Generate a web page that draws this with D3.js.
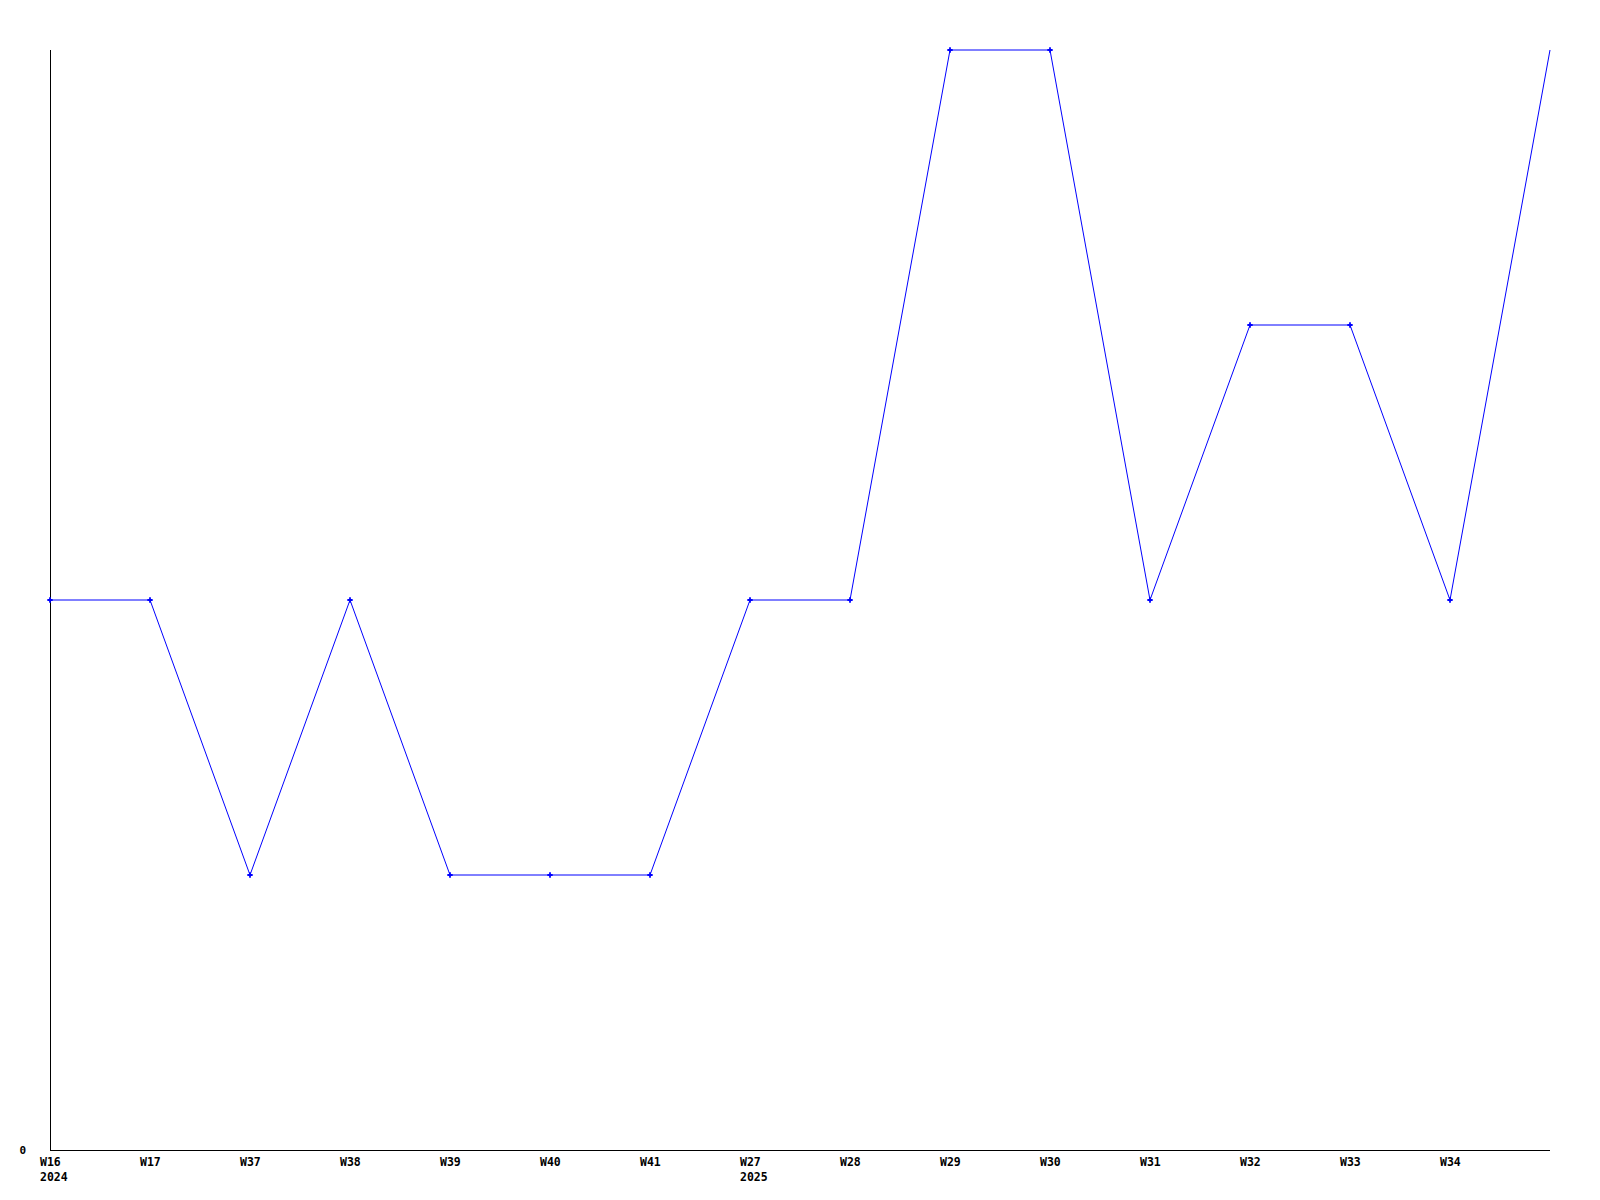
<!DOCTYPE html>
<html><head><meta charset="utf-8">
<script src="https://cdn.jsdelivr.net/npm/d3@7"></script>
<style>body{margin:0;background:#fff}svg{display:block}</style>
</head><body>
<script>
const weeks = ["W16","W17","W37","W38","W39","W40","W41","W27","W28","W29","W30","W31","W32","W33","W34",""];
const years = ["2024","","","","","","","2025","","","","","","","",""];
const values = [2,2,1,2,1,1,1,2,2,4,4,2,3,3,2,4];
const yTicks = [0];

const W = 1600, H = 1200;
const svg = d3.select("body").append("svg").attr("width", W).attr("height", H);
const x = d3.scaleLinear().domain([0, weeks.length - 1]).range([50, 1550]);
const y = d3.scaleLinear().domain([0, 4]).range([1150, 50]);
const font = "'DejaVu Sans Mono', monospace";

// axes
svg.append("line").attr("x1", 50.5).attr("x2", 50.5).attr("y1", y(4)).attr("y2", y(0) + 0.5)
  .attr("stroke", "#000").attr("stroke-width", 1).attr("shape-rendering", "crispEdges");
svg.append("line").attr("x1", 50).attr("x2", 1550).attr("y1", y(0) + 0.5).attr("y2", y(0) + 0.5)
  .attr("stroke", "#000").attr("stroke-width", 1).attr("shape-rendering", "crispEdges");

svg.selectAll("text.yt").data(yTicks).join("text").attr("class", "yt")
  .attr("x", 26).attr("y", d => y(d) + 3.5).attr("text-anchor", "end")
  .attr("font-family", font).attr("font-weight", "bold").attr("font-size", 11).text(d => d);

const idx = d3.range(weeks.length);
svg.selectAll("text.wk").data(idx.filter(i => weeks[i])).join("text").attr("class", "wk")
  .attr("x", i => x(i) - 10).attr("y", 1166)
  .attr("font-family", font).attr("font-weight", "bold").attr("font-size", 11.5).text(i => weeks[i]);
svg.selectAll("text.yr").data(idx.filter(i => years[i])).join("text").attr("class", "yr")
  .attr("x", i => x(i) - 10).attr("y", 1181)
  .attr("font-family", font).attr("font-weight", "bold").attr("font-size", 11.5).text(i => years[i]);

// line
const line = d3.line().x((d, i) => x(i)).y(d => y(d));
svg.append("path").datum(values).attr("d", line).attr("fill", "none")
  .attr("stroke", "#0000ff").attr("stroke-width", 1);

svg.selectAll("path.mk").data(idx.filter(i => weeks[i])).join("path").attr("class", "mk")
  .attr("transform", i => `translate(${x(i)},${y(values[i])})`)
  .attr("d", d3.symbol(d3.symbolCross, 16)).attr("fill", "#0000ff");
</script>
</body></html>
